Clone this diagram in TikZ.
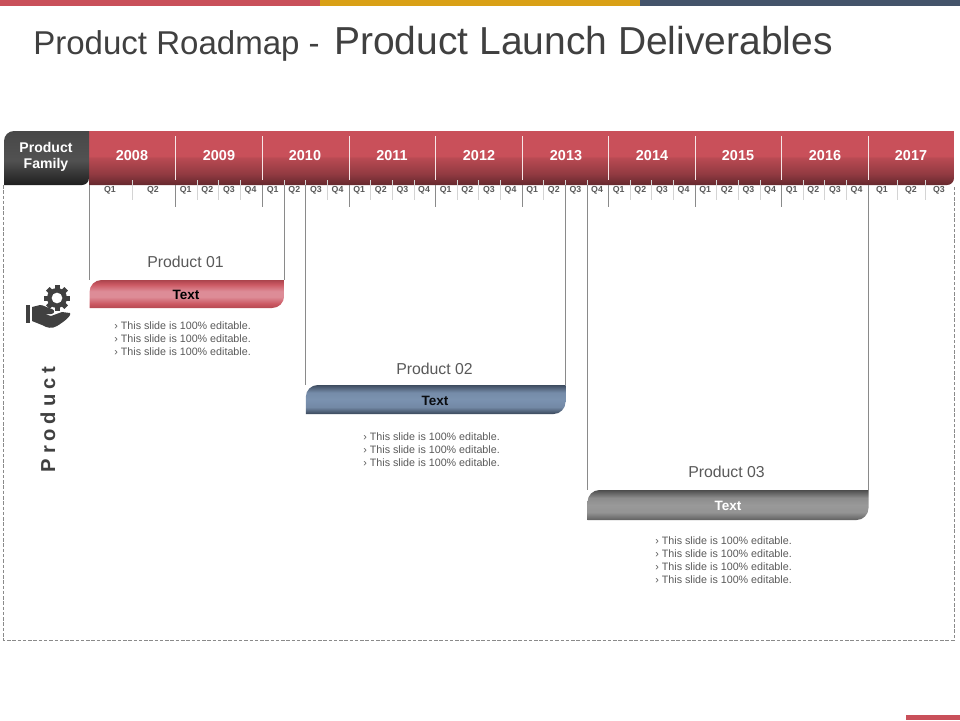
\documentclass[tikz,border=0pt]{standalone}
\usepackage{fontspec}
\setmainfont{Liberation Sans}
\newfontfamily\spacedfont[LetterSpace=24]{Liberation Sans}
\definecolor{barred}{HTML}{C9505A}
\definecolor{bargold}{HTML}{D9A016}
\definecolor{barnavy}{HTML}{44546A}
\definecolor{inkgray}{HTML}{404040}
\definecolor{txtgray}{HTML}{595959}
\definecolor{droplinegray}{HTML}{8A8A8A}
\definecolor{ticklight}{HTML}{D4D4D4}
\definecolor{pinkmid}{HTML}{DD8C97}
\definecolor{bluemid}{HTML}{7B92B0}
% vertical shadings, the box is mapped on 25bp..75bp
\pgfdeclareverticalshading{yearshade}{100bp}{color(0bp)=(barred!50!black); color(25bp)=(barred!50!black); color(35bp)=(barred!72!black); color(50bp)=(barred!92!black); color(52bp)=(barred); color(75bp)=(barred); color(100bp)=(barred)}
\pgfdeclareverticalshading{familyshade}{100bp}{color(0bp)=(black!88); color(25bp)=(black!88); color(48bp)=(black!68); color(75bp)=(black!72); color(100bp)=(black!72)}
\pgfdeclareverticalshading{redshade}{100bp}{color(0bp)=(barred!90!black); color(25bp)=(barred!90!black); color(33bp)=(barred!85!pinkmid); color(45bp)=(pinkmid); color(55bp)=(pinkmid); color(67bp)=(barred!85!pinkmid); color(75bp)=(barred!85!black); color(100bp)=(barred!85!black)}
\pgfdeclareverticalshading{blueshade}{100bp}{color(0bp)=(barnavy!85!black); color(25bp)=(barnavy!85!black); color(37bp)=(bluemid!85!barnavy); color(50bp)=(bluemid); color(62bp)=(bluemid!90!barnavy); color(75bp)=(barnavy!90!black); color(100bp)=(barnavy)}
\pgfdeclareverticalshading{grayshade}{100bp}{color(0bp)=(black!62); color(25bp)=(black!62); color(38bp)=(black!42); color(50bp)=(black!40); color(62bp)=(black!45); color(75bp)=(black!70); color(100bp)=(black!70)}
\tikzset{
	yearlabel/.style={font=\fontsize{8.2}{9}\selectfont\bfseries, text=white},
	qlabel/.style={font=\fontsize{5}{6}\selectfont\bfseries, text=txtgray},
	prodlabel/.style={font=\fontsize{9}{11}\selectfont, text=txtgray},
	boxlabel/.style={font=\fontsize{7.7}{9}\selectfont\bfseries},
	bulletlist/.style={font=\fontsize{6.1}{7.38}\selectfont, text=txtgray, align=left, inner sep=0pt, anchor=north west},
	dropline/.style={droplinegray, line width=0.5pt},
	tickline/.style={ticklight, line width=0.45pt},
	boxround/.style={rounded corners=0.24cm}
}
\begin{document}
\begin{tikzpicture}[x=0.02cm,y=-0.02cm]
	\useasboundingbox (0,0) rectangle (960,720);
	% colour strips
	\fill[barred] (0,0) rectangle (320,6);
	\fill[bargold] (320,0) rectangle (640,6);
	\fill[barnavy] (640,0) rectangle (960,6);
	\fill[barred] (906,715) rectangle (960,720);
	\node[anchor=base west, inner sep=0pt, text=inkgray] (title) at (33,54) {\fontsize{18.8}{22}\selectfont Product Roadmap -\hspace{2pt}\fontsize{22.2}{26}\selectfont\ Product Launch Deliverables};
	% frame
	\draw[droplinegray, line width=0.4pt, dash pattern=on 2pt off 1pt] (3.5,185) -- (3.5,640) -- (954,640) -- (954,185);
	% header bar
	\shade[shading=yearshade] (89,131) -- (954,131) [rounded corners=0.14cm] -- (954,185) [sharp corners] -- (89,185) -- cycle;
	\shade[shading=familyshade] (4,185) [rounded corners=0.2cm] -- (4,131) [sharp corners] -- (89,131) [rounded corners=0.14cm] -- (89,185) [sharp corners] -- cycle;
	\node[font=\fontsize{8}{9}\selectfont\bfseries, text=white, align=center] (family) at (46,156.5) {Product\\Family};
	% year labels and dividers
	\foreach \x/\yr in {132/2008,219/2009,305/2010,392/2011,479/2012,566/2013,652/2014,738/2015,825/2016,911/2017}
		\node[yearlabel] (y\yr) at (\x,155.5) {\yr};
	\foreach \x in {175.5,262.5,349,435.5,522,608.5,695,781.5,868.5}
		\draw[white!85!barred, line width=0.45pt] (\x,136) -- (\x,180);
	\foreach \x in {175.5,262.5,349,435.5,522,608.5,695,781.5}
		\draw[dropline] (\x,185) -- (\x,207);
	% quarters
	\foreach \x in {175.5,262.5,349,435.5,522,608.5,695,781.5}{
		\foreach \j in {1,2,3}
			\draw[tickline] ({\x+\j*21.65},180) -- ({\x+\j*21.65},200);
		\foreach \j in {1,2,3,4}
			\node[qlabel] (q\x-\j) at ({\x+(\j-0.5)*21.65-0.7},190) {Q\j};
	}
	\draw[tickline] (132.5,180) -- (132.5,200);
	\node[qlabel] (q08a) at (110,190) {Q1};
	\node[qlabel] (q08b) at (153,190) {Q2};
	\draw[tickline] (897,180) -- (897,200);
	\draw[tickline] (925.5,180) -- (925.5,200);
	\node[qlabel] (q17a) at (882,190) {Q1};
	\node[qlabel] (q17b) at (911,190) {Q2};
	\node[qlabel] (q17c) at (939,190) {Q3};
	% product 01
	\draw[dropline] (89.5,185) -- (89.5,280);
	\draw[dropline] (284.15,185) -- (284.15,280);
	\node[prodlabel] (prod1) at (185.5,262) {Product 01};
	\shade[shading=redshade] (89.5,308) [boxround] -- (89.5,280) [sharp corners] -- (284.15,280) [boxround] -- (284.15,308) [sharp corners] -- cycle;
	\node[boxlabel, text=black] (box1) at (186,294.5) {Text};
	\node[bulletlist] (list1) at (114,321) {› This slide is 100\% editable.\\› This slide is 100\% editable.\\› This slide is 100\% editable.};
	% product 02
	\draw[dropline] (305.8,185) -- (305.8,385);
	\draw[dropline] (565.5,185) -- (565.5,385);
	\node[prodlabel] (prod2) at (434.5,369) {Product 02};
	\shade[shading=blueshade] (305.8,414) [boxround] -- (305.8,385) [sharp corners] -- (565.5,385) [boxround] -- (565.5,414) [sharp corners] -- cycle;
	\node[boxlabel, text=black!85!barnavy] (box2) at (435,400.5) {Text};
	\node[bulletlist] (list2) at (363,432) {› This slide is 100\% editable.\\› This slide is 100\% editable.\\› This slide is 100\% editable.};
	% product 03
	\draw[dropline] (587.5,185) -- (587.5,490);
	\draw[dropline] (868.5,185) -- (868.5,490);
	\node[prodlabel] (prod3) at (726.5,472) {Product 03};
	\shade[shading=grayshade] (587.5,520) [boxround] -- (587.5,490) [sharp corners] -- (868.5,490) [boxround] -- (868.5,520) [sharp corners] -- cycle;
	\node[boxlabel, text=white] (box3) at (728,505.5) {Text};
	\node[bulletlist] (list3) at (655,536) {› This slide is 100\% editable.\\› This slide is 100\% editable.\\› This slide is 100\% editable.\\› This slide is 100\% editable.};
	% side label and icon
	\node[rotate=90, text=inkgray, font=\fontsize{11.5}{13}\spacedfont\bfseries] (side) at (48,419.5) {Product};
	\fill[inkgray, even odd rule] (57,298) circle[radius=10] (57,298) circle[radius=5.5];
	\foreach \a in {0,45,...,315}
		\fill[inkgray, rotate around={\a:(57,298)}] (54.5,285) rectangle (59.5,290);
	\fill[inkgray] (26,305) rectangle (30,323);
	\fill[inkgray] (32,307) -- (40,305) .. controls (44,305) and (47,308) .. (52,309) .. controls (55,310) and (55,314) .. (51,314) -- (45,314) -- (51,316) -- (62,312) -- (70,313) .. controls (72,316) and (62,323) .. (57,326) .. controls (52,329) and (47,328) .. (42,325) -- (32,321) -- cycle;
\end{tikzpicture}
\end{document}
